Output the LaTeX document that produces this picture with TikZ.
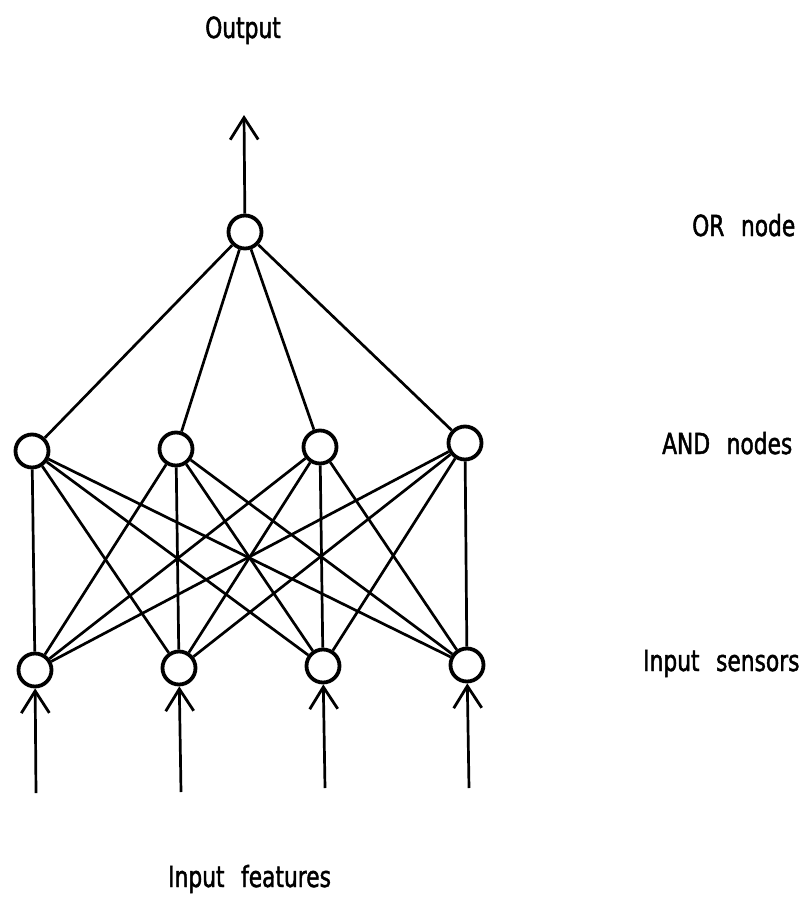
\documentclass[tikz,border=0pt]{standalone}
\usepackage{fontspec}
\setmainfont{DejaVu Sans}[FakeStretch=0.75, FakeBold=1.6, WordSpace=2.4]
\usetikzlibrary{arrows.meta}
\begin{document}
\begin{tikzpicture}[x=1pt, y=-1pt,
  unit/.style={circle, draw, line width=3.8pt, minimum size=33pt, inner sep=0pt},
  link/.style={line width=2.7pt},
  flow/.style={line width=2.7pt, -{Straight Barb[length=22pt, width=28pt, line width=2.8pt]}},
  lab/.style={font=\fontsize{29}{30}\selectfont, inner sep=0pt, anchor=base west}]
  \useasboundingbox (0,0) rectangle (810,897);

  % OR node
  \node[unit] (or) at (245,232) {};
  % AND nodes
  \node[unit] (a1) at (32,451) {};
  \node[unit] (a2) at (176,449) {};
  \node[unit] (a3) at (320,447) {};
  \node[unit] (a4) at (465,443) {};
  % input sensors
  \node[unit] (s1) at (35,670) {};
  \node[unit] (s2) at (179,668) {};
  \node[unit] (s3) at (323,666) {};
  \node[unit] (s4) at (467,665) {};

  % free ends of the arrows
  \coordinate (out) at (244,115);
  \coordinate (f1) at (36,793);
  \coordinate (f2) at (181,792);
  \coordinate (f3) at (325,788);
  \coordinate (f4) at (469,788);

  % AND nodes feed the OR node
  \foreach \a in {a1,a2,a3,a4} \draw[link] (\a) -- (or);
  % every sensor feeds every AND node
  \foreach \s in {s1,s2,s3,s4}
    \foreach \a in {a1,a2,a3,a4}
      \draw[link] (\s) -- (\a);

  \draw[flow] (or) -- (out);
  \draw[flow] (f1) -- (s1);
  \draw[flow] (f2) -- (s2);
  \draw[flow] (f3) -- (s3);
  \draw[flow] (f4) -- (s4);

  % labels
  \node[lab, anchor=base] (tout) at (243,38) {Output};
  \node[lab] (tor) at (692,236) {OR node};
  \node[lab] (tand) at (662,454) {AND nodes};
  \node[lab] (tsen) at (643,671) {Input sensors};
  \node[lab] (tfea) at (168,887) {Input features};
\end{tikzpicture}
\end{document}
